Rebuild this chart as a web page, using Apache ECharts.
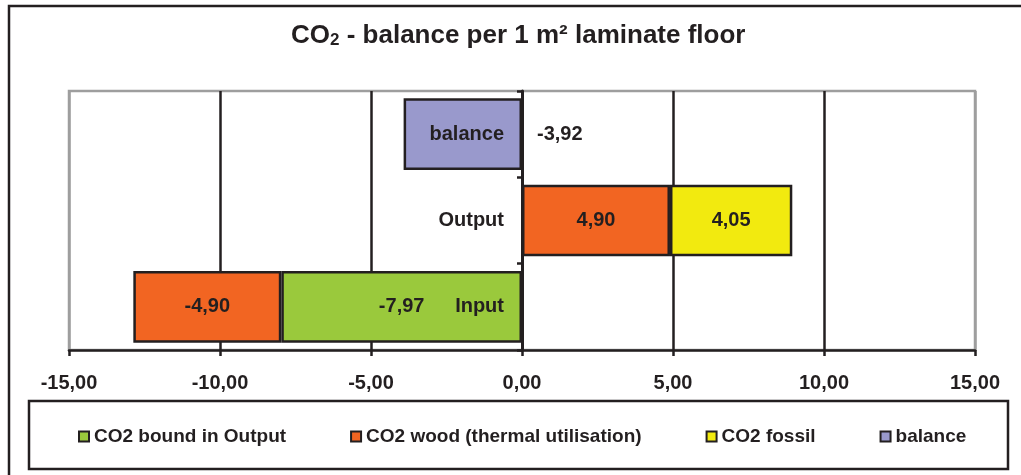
<!DOCTYPE html>
<html>
<head>
<meta charset="utf-8">
<script src="https://cdn.jsdelivr.net/npm/echarts@6/dist/echarts.min.js"></script>
<style>
  html, body { margin: 0; padding: 0; background: #fff; }
</style>
</head>
<body>
<div id="co2" style="width: 1021px;height:475px;"></div>
<script>
  var category = ['Input', 'Output', 'balance'];
  var boundData = [-7.97, '-', '-'];
  var woodData = [-4.90, 4.90, '-'];
  var fossilData = ['-', 4.05, '-'];
  var balanceData = ['-', '-', -3.92];
  var xTicks = [-15, -10, -5, 0, 5, 10, 15];

  var dark = '#231F20';
  var font = 'Liberation Sans, Arial, sans-serif';

  function fmt(v) {
    return v.toFixed(2).replace('.', ',');
  }

  function initChart() {
    var myChart = echarts.init(document.getElementById('co2'));
    var barLabel = {
      show: true,
      position: 'inside',
      color: dark,
      fontFamily: font,
      fontWeight: 'bold',
      fontSize: 20,
      formatter: function (p) { return fmt(p.value); }
    };
    var border = { borderColor: dark, borderWidth: 2.5 };
    var option = {
      animation: false,
      title: {
        text: 'CO{sub|2} - balance per 1 m² laminate floor',
        left: 286,
        top: 18,
        textStyle: {
          color: dark,
          fontFamily: font,
          fontWeight: 'bold',
          fontSize: 26,
          rich: {
            sub: {
              color: dark,
              fontFamily: font,
              fontWeight: 'bold',
              fontSize: 17,
              lineHeight: 14,
              padding: [15, 0, 0, 0],
              verticalAlign: 'bottom'
            }
          }
        }
      },
      graphic: [
        {
          type: 'rect',
          shape: { x: 9, y: 6, width: 1040, height: 500 },
          style: { fill: 'none', stroke: dark, lineWidth: 2.5 },
          silent: true
        },
        {
          type: 'rect',
          shape: { x: 29, y: 401, width: 979, height: 68 },
          style: { fill: 'none', stroke: dark, lineWidth: 2.5 },
          silent: true
        }
      ],
      legend: {
        left: 78,
        top: 427,
        padding: 0,
        itemWidth: 10,
        itemHeight: 10,
        itemGap: 64,
        icon: 'rect',
        itemStyle: { borderColor: dark, borderWidth: 2 },
        textStyle: {
          color: dark,
          fontFamily: font,
          fontWeight: 'bold',
          fontSize: 19
        },
        data: ['CO2 bound in Output', 'CO2 wood (thermal utilisation)', 'CO2 fossil', 'balance']
      },
      grid: {
        left: 69,
        right: 46,
        top: 91,
        bottom: 125,
        outerBoundsMode: 'none',
        show: true,
        borderColor: '#9E9E9E',
        borderWidth: 2.5
      },
      xAxis: {
        type: 'value',
        min: xTicks[0],
        max: xTicks[xTicks.length - 1],
        interval: 5,
        axisLine: { show: true, lineStyle: { color: dark, width: 2.5 } },
        axisTick: { show: true, length: 6, lineStyle: { color: dark, width: 2.5 } },
        splitLine: {
          show: true,
          lineStyle: {
            color: ['#9E9E9E', dark, dark, dark, dark, dark, '#9E9E9E'],
            width: 2.5
          }
        },
        axisLabel: {
          margin: 23,
          color: dark,
          fontFamily: font,
          fontWeight: 'bold',
          fontSize: 20,
          formatter: function (v) { return fmt(v); }
        }
      },
      yAxis: {
        type: 'category',
        data: category,
        axisLine: { show: true, onZero: true, lineStyle: { color: dark, width: 3 } },
        axisTick: { show: true, length: 5, lineStyle: { color: dark, width: 2.5 } },
        splitLine: { show: false },
        axisLabel: {
          // labels sit just left of the zero line
          margin: -435,
          color: dark,
          fontFamily: font,
          fontWeight: 'bold',
          fontSize: 20
        },
        z: 10
      },
      series: [
        {
          name: 'CO2 bound in Output',
          type: 'bar',
          stack: 'co2',
          barCategoryGap: '17%',
          itemStyle: Object.assign({ color: '#9AC93C' }, border),
          label: barLabel,
          data: boundData
        },
        {
          name: 'CO2 wood (thermal utilisation)',
          type: 'bar',
          stack: 'co2',
          itemStyle: Object.assign({ color: '#F26522' }, border),
          label: barLabel,
          data: woodData
        },
        {
          name: 'CO2 fossil',
          type: 'bar',
          stack: 'co2',
          itemStyle: Object.assign({ color: '#F2EA0F' }, border),
          label: barLabel,
          data: fossilData
        },
        {
          name: 'balance',
          type: 'bar',
          stack: 'co2',
          itemStyle: Object.assign({ color: '#9999CC' }, border),
          label: Object.assign({}, barLabel, { position: 'right', distance: 15 }),
          data: balanceData
        }
      ]
    };
    myChart.setOption(option);
  }

  initChart();
</script>
</body>
</html>
